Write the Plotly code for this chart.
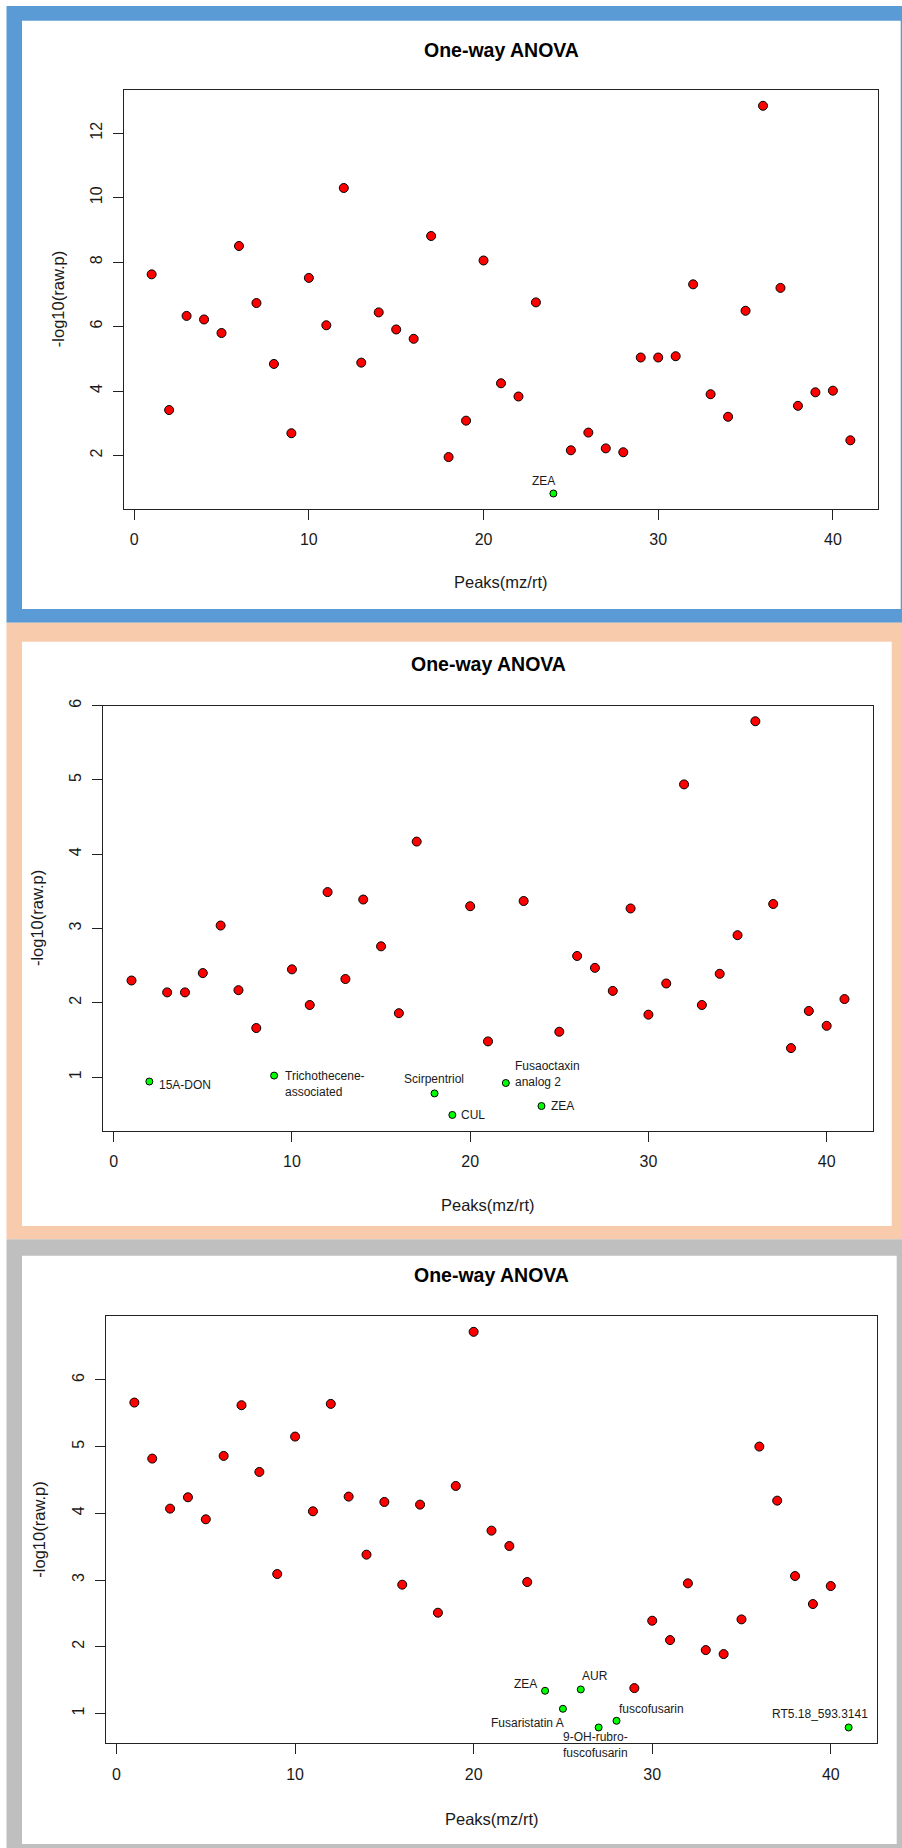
import plotly.graph_objects as go

W, H = 902, 1848

# ---------------- data ----------------
peaks = list(range(1, 42))

p1_values = [7.62, 3.41, 6.33, 6.22, 5.80, 8.50, 6.73, 4.84, 2.69, 7.51,
             6.04, 10.30, 4.88, 6.44, 5.91, 5.62, 8.81, 1.95, 3.08, 8.05,
             4.24, 3.83, 6.75, 0.82, 2.16, 2.71, 2.22, 2.10, 5.04, 5.04,
             5.08, 7.31, 3.90, 3.20, 6.49, 12.85, 7.20, 3.54, 3.96, 4.01, 2.47]
p1_named = {24: "ZEA"}

p2_values = [2.30, 0.94, 2.14, 2.14, 2.40, 3.04, 2.17, 1.66, 1.02, 2.45,
             1.97, 3.49, 2.32, 3.39, 2.76, 1.86, 4.17, 0.78, 0.49, 3.30,
             1.48, 0.92, 3.37, 0.61, 1.61, 2.63, 2.47, 2.16, 3.27, 1.84,
             2.26, 4.94, 1.97, 2.39, 2.91, 5.79, 3.33, 1.39, 1.89, 1.69, 2.05]
p2_named = {2: "15A-DON", 9: "Trichothecene-<br>associated", 18: "Scirpentriol",
            19: "CUL", 22: "Fusaoctaxin<br>analog 2", 24: "ZEA"}

p3_values = [5.66, 4.82, 4.07, 4.24, 3.91, 4.86, 5.62, 4.62, 3.09, 5.15,
             4.03, 5.64, 4.25, 3.38, 4.17, 2.93, 4.13, 2.51, 4.41, 6.72,
             3.74, 3.51, 2.97, 1.34, 1.07, 1.36, 0.79, 0.89, 1.38, 2.39,
             2.10, 2.95, 1.95, 1.89, 2.41, 5.00, 4.19, 3.06, 2.64, 2.91, 0.79]
p3_named = {24: "ZEA", 25: "Fusaristatin A", 26: "AUR",
            27: "9-OH-rubro-<br>fuscofusarin", 28: "fuscofusarin",
            41: "RT5.18_593.3141"}

x_ticks = [0, 10, 20, 30, 40]
p1_yticks = [2, 4, 6, 8, 10, 12]
p2_yticks = [1, 2, 3, 4, 5, 6]
p3_yticks = [1, 2, 3, 4, 5, 6]

title_text = "One-way ANOVA"
x_title = "Peaks(mz/rt)"
y_title = "-log10(raw.p)"

# ---------------- styling ----------------
# label placement: (xanchor, xshift, yshift, align)
p1_label_style = {24: ("center", -10, 12, "center")}
p2_label_style = {2: ("left", 8, -3, "left"), 9: ("left", 9, -8, "left"),
                  18: ("center", -1, 14, "center"), 19: ("left", 7, 0, "left"),
                  22: ("left", 7, 9, "left"), 24: ("left", 8, 0, "left")}
p3_label_style = {24: ("right", -6, 7, "right"), 25: ("right", 3, -14, "right"),
                  26: ("center", 14, 13, "center"), 27: ("center", -3, -18, "center"),
                  28: ("left", 0, 12, "left"), 41: ("center", -29, 13, "center")}

panels = [
    dict(values=p1_values, named=p1_named, yticks=p1_yticks, lstyle=p1_label_style,
         box=(123.7, 878.3, 90.3, 509.0), frame=(6.5, 902, 6, 622.7),
         inner=(22, 900.7, 20.7, 609), color="#5B9BD5",
         title_y=50, xt_y=582, yt_x=57.5),
    dict(values=p2_values, named=p2_named, yticks=p2_yticks, lstyle=p2_label_style,
         box=(103.0, 873.0, 705.5, 1130.7), frame=(6.5, 902, 622.7, 1239.3),
         inner=(22, 891.7, 641.7, 1226), color="#F8CBAD",
         title_y=664, xt_y=1205, yt_x=37),
    dict(values=p3_values, named=p3_named, yticks=p3_yticks, lstyle=p3_label_style,
         box=(105.8, 877.2, 1316.0, 1743.3), frame=(6.5, 902, 1239.3, 1848),
         inner=(22, 896.7, 1255.7, 1844), color="#BFBFBF",
         title_y=1275, xt_y=1818.5, yt_x=39),
]

FONT = "Liberation Sans, Arial, Helvetica, sans-serif"
TXT = "#1a1a1a"


def px(x):
    return x / W


def py(y):
    return 1 - y / H


fig = go.Figure()
shapes = []
annotations = []
layout_axes = {}

for i, p in enumerate(panels, start=1):
    xa = "x" if i == 1 else f"x{i}"
    ya = "y" if i == 1 else f"y{i}"
    vals = p["values"]
    named = p["named"]
    red_x = [k for k, v in zip(peaks, vals) if k not in named]
    red_y = [v for k, v in zip(peaks, vals) if k not in named]
    grn_x = [k for k, v in zip(peaks, vals) if k in named]
    grn_y = [v for k, v in zip(peaks, vals) if k in named]

    fig.add_trace(go.Scatter(x=red_x, y=red_y, mode="markers", xaxis=xa, yaxis=ya,
                             marker=dict(color="#FF0000", size=9,
                                         line=dict(color="black", width=1)),
                             showlegend=False, hoverinfo="x+y"))
    fig.add_trace(go.Scatter(x=grn_x, y=grn_y, mode="markers", xaxis=xa, yaxis=ya,
                             marker=dict(color="#00FF00", size=7,
                                         line=dict(color="black", width=1)),
                             showlegend=False, hoverinfo="x+y"))

    # R-style 4% range extension
    xmin, xmax = min(peaks), max(peaks)
    xr = xmax - xmin
    ymin, ymax = min(vals), max(vals)
    yr = ymax - ymin
    x0, x1, y0, y1 = p["box"]

    axis_common = dict(showline=True, mirror=True, linecolor="#222", linewidth=1.3,
                       showgrid=False, zeroline=False, ticks="outside", ticklen=10,
                       tickwidth=1, tickcolor="#222", automargin=False,
                       tickfont=dict(family=FONT, size=16, color=TXT))
    layout_axes["xaxis" if i == 1 else f"xaxis{i}"] = dict(
        axis_common, domain=[px(x0), px(x1)],
        range=[xmin - 0.04 * xr, xmax + 0.04 * xr],
        tickvals=x_ticks, anchor=ya, ticklabelstandoff=6)
    layout_axes["yaxis" if i == 1 else f"yaxis{i}"] = dict(
        axis_common, domain=[py(y1), py(y0)],
        range=[ymin - 0.04 * yr, ymax + 0.04 * yr],
        tickvals=p["yticks"], tickangle=-90, anchor=xa, ticklabelstandoff=4)

    # frames
    fx0, fx1, fy0, fy1 = p["frame"]
    shapes.append(dict(type="rect", xref="paper", yref="paper", layer="below",
                       x0=px(fx0), x1=px(fx1), y0=py(fy1), y1=py(fy0),
                       fillcolor=p["color"], line=dict(width=0)))
    ix0, ix1, iy0, iy1 = p["inner"]
    shapes.append(dict(type="rect", xref="paper", yref="paper", layer="below",
                       x0=px(ix0), x1=px(ix1), y0=py(iy1), y1=py(iy0),
                       fillcolor="white", line=dict(width=0)))

    cx = (x0 + x1) / 2
    annotations.append(dict(text=f"<b>{title_text}</b>", xref="paper", yref="paper",
                            x=px(cx), y=py(p["title_y"]), showarrow=False,
                            xanchor="center", yanchor="middle",
                            font=dict(family=FONT, size=19.5, color="black")))
    annotations.append(dict(text=x_title, xref="paper", yref="paper",
                            x=px(cx), y=py(p["xt_y"]), showarrow=False,
                            xanchor="center", yanchor="middle",
                            font=dict(family=FONT, size=16.5, color=TXT)))
    annotations.append(dict(text=y_title, xref="paper", yref="paper",
                            x=px(p["yt_x"]), y=py((y0 + y1) / 2), showarrow=False,
                            textangle=-90, xanchor="center", yanchor="middle",
                            font=dict(family=FONT, size=16.5, color=TXT)))

    for k, name in named.items():
        anchor, xs, ys, align = p["lstyle"][k]
        annotations.append(dict(text=name, xref=xa, yref=ya, x=k, y=vals[k - 1],
                                showarrow=False, xanchor=anchor, yanchor="middle",
                                xshift=xs, yshift=ys, align=align,
                                font=dict(family=FONT, size=12, color=TXT)))

fig.update_layout(
    width=W, height=H, autosize=False,
    margin=dict(l=0, r=0, t=0, b=0, pad=0, autoexpand=False),
    paper_bgcolor="white", plot_bgcolor="rgba(0,0,0,0)",
    shapes=shapes, annotations=annotations, showlegend=False,
    **layout_axes,
)

page_fix = ("document.documentElement.style.margin='0';"
            "document.documentElement.style.overflow='hidden';"
            "document.body.style.margin='0';"
            "document.body.style.padding='0';"
            "document.body.style.overflow='hidden';"
            "var gd=document.getElementById('{plot_id}');"
            "gd.style.position='absolute';gd.style.top='0px';gd.style.left='0px';")

fig.write_html("out.html", post_script=page_fix,
               config={"displayModeBar": False})
